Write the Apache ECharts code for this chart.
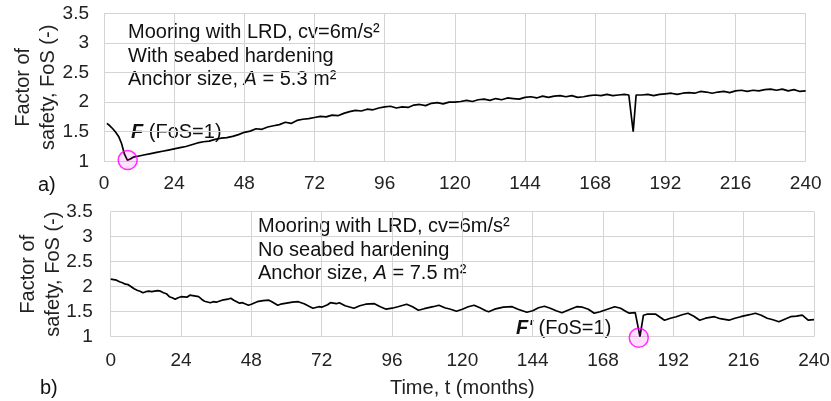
<!DOCTYPE html>
<html>
<head>
<meta charset="utf-8">
<title>Factor of safety</title>
<script src="https://cdn.jsdelivr.net/npm/echarts@6/dist/echarts.min.js"></script>
<style>
  html, body { margin: 0; padding: 0; background: #fff; }
  #main { width: 831px; height: 401px; }
</style>
</head>
<body>
<div id="main"></div>
<script>
// a) with seabed hardening, A = 5.3 m2
var monthsA = [1, 2, 3, 4, 5, 6, 7, 8, 9, 10, 12, 14, 16, 18, 20, 22, 24, 26, 28, 30, 32, 34, 36, 38, 40,
  42, 44, 46, 48, 50, 52, 54, 56, 58, 60, 62, 64, 66, 68, 70, 72, 74, 76, 78, 80, 82, 84, 86, 88, 90,
  92, 94, 96, 98, 100, 102, 104, 106, 108, 110, 112, 114, 116, 118, 120, 122, 124, 126, 128, 130,
  132, 134, 136, 138, 140, 142, 144, 146, 148, 150, 152, 154, 156, 158, 160, 162, 164, 166, 168,
  170, 172, 174, 176, 178, 179.5, 181, 182, 184, 186, 188, 190, 192, 194, 196, 198, 200, 202, 204,
  206, 208, 210, 212, 214, 216, 218, 220, 222, 224, 226, 228, 230, 232, 234, 236, 238, 240];
var fosA = [1.64, 1.60, 1.55, 1.49, 1.42, 1.30, 1.12, 1.02, 1.04, 1.07, 1.09, 1.11, 1.13, 1.15, 1.17, 1.19, 1.21, 1.23, 1.25, 1.28, 1.31, 1.33, 1.34, 1.37, 1.39,
  1.40, 1.42, 1.45, 1.49, 1.51, 1.55, 1.54, 1.58, 1.60, 1.62, 1.66, 1.64, 1.69, 1.71, 1.72, 1.74, 1.76, 1.75, 1.78, 1.77, 1.81, 1.84, 1.86, 1.85, 1.88,
  1.87, 1.90, 1.92, 1.93, 1.90, 1.92, 1.91, 1.95, 1.96, 1.94, 1.98, 1.99, 1.97, 2.00, 2.00, 2.01, 2.03, 2.01, 2.04, 2.05,
  2.03, 2.06, 2.04, 2.07, 2.06, 2.05, 2.08, 2.09, 2.07, 2.10, 2.08, 2.10, 2.11, 2.09, 2.11, 2.08, 2.09, 2.11, 2.12,
  2.11, 2.13, 2.11, 2.12, 2.13, 2.12, 1.50, 2.12, 2.12, 2.13, 2.11, 2.13, 2.14, 2.15, 2.13, 2.15, 2.16, 2.15, 2.18,
  2.17, 2.15, 2.17, 2.18, 2.16, 2.19, 2.20, 2.18, 2.20, 2.19, 2.21, 2.22, 2.20, 2.22, 2.19, 2.21, 2.18, 2.19];

// b) no seabed hardening, A = 7.5 m2
var monthsB = [0, 1, 2, 3, 4, 5, 6, 7, 8, 9, 10, 11, 12, 13, 14, 16, 17, 18, 19, 20, 21, 22, 23, 24, 26, 27, 28, 30,
  31, 32, 34, 35, 36, 38, 40, 41, 42, 44, 45, 47, 48, 50, 52, 54, 55, 57, 58, 60, 62, 64, 66, 68, 69, 71, 72,
  74, 75, 77, 78, 80, 83, 85, 87, 90, 92, 94, 96, 98, 101, 103, 105, 107, 110, 112, 114, 116, 118, 120,
  122, 124, 126, 128, 129, 131, 134, 137, 139, 142, 144, 146, 148, 150, 152, 154, 156, 159, 161, 163,
  165, 167, 170, 172, 174, 176, 177, 179, 180.6, 181.8, 183, 186, 188, 189, 191, 193, 195, 197, 199,
  201, 203, 206, 208, 211, 213, 215, 218, 220, 222, 224, 226, 228, 230, 232, 234, 236, 238, 240];
var fosB = [2.15, 2.14, 2.13, 2.10, 2.08, 2.05, 2.04, 2.00, 1.96, 1.93, 1.91, 1.88, 1.90, 1.91, 1.90, 1.92, 1.91, 1.88, 1.86, 1.80, 1.78, 1.75, 1.78, 1.80, 1.79, 1.83, 1.82, 1.80,
  1.75, 1.71, 1.68, 1.70, 1.69, 1.73, 1.75, 1.77, 1.73, 1.67, 1.68, 1.63, 1.65, 1.70, 1.72, 1.73, 1.70, 1.63, 1.65, 1.67, 1.69, 1.70, 1.66, 1.60, 1.57, 1.60, 1.59,
  1.64, 1.68, 1.66, 1.68, 1.62, 1.57, 1.62, 1.65, 1.66, 1.60, 1.55, 1.57, 1.60, 1.65, 1.60, 1.53, 1.56, 1.60, 1.63, 1.58, 1.55, 1.51, 1.55,
  1.60, 1.63, 1.58, 1.52, 1.50, 1.55, 1.59, 1.60, 1.55, 1.49, 1.52, 1.58, 1.61, 1.57, 1.52, 1.48, 1.53, 1.60, 1.59, 1.55,
  1.47, 1.50, 1.56, 1.60, 1.57, 1.50, 1.47, 1.48, 1.00, 1.43, 1.45, 1.45, 1.37, 1.33, 1.37, 1.40, 1.44, 1.47, 1.41,
  1.33, 1.37, 1.40, 1.36, 1.33, 1.37, 1.40, 1.44, 1.47, 1.43, 1.37, 1.34, 1.30, 1.35, 1.40, 1.41, 1.43, 1.33, 1.34];

// failure points (FoS = 1)
var failA = [8.1, 1.02];
var failB = [180.2, 0.98];

function pairs(xs, ys) {
  return xs.map(function (x, i) { return [x, ys[i]]; });
}

var FONT = 'Liberation Sans, Arial, sans-serif';
var gridColor = '#d4d4d4';

function xAxisFor(idx, margin, name) {
  return {
    type: 'value', gridIndex: idx, min: 0, max: 240, interval: 24,
    axisLine: { show: false }, axisTick: { show: false },
    axisLabel: { color: '#222', fontSize: 19, fontFamily: FONT, margin: margin },
    splitLine: { show: true, lineStyle: { color: gridColor, width: 1 } },
    name: name || '', nameLocation: 'middle', nameGap: 42,
    nameTextStyle: { color: '#222', fontSize: 20, fontFamily: FONT }
  };
}
function yAxisFor(idx, margin, gap) {
  return {
    type: 'value', gridIndex: idx, min: 1, max: 3.5, interval: 0.5,
    axisLine: { show: false }, axisTick: { show: false },
    axisLabel: { color: '#222', fontSize: 19, fontFamily: FONT, margin: margin },
    splitLine: { show: true, lineStyle: { color: gridColor, width: 1 } },
    name: 'Factor of\nsafety, FoS (-)', nameLocation: 'middle', nameGap: gap,
    nameMoveOverlap: false,
    nameTextStyle: { color: '#222', fontSize: 20, fontFamily: FONT, lineHeight: 25 }
  };
}

var circleStyle = { color: 'rgba(255,0,255,0.15)', borderColor: '#ff00ff', borderWidth: 1.5 };
var txt = { fontSize: 20, fontFamily: FONT, fill: '#111', lineHeight: 23.5 };
var rich = {
  i: { fontStyle: 'italic', fontSize: 20, fontFamily: FONT, fill: '#111' },
  b: { fontStyle: 'italic', fontWeight: 'bold', fontSize: 20, fontFamily: FONT, fill: '#111' }
};

var chart = echarts.init(document.getElementById('main'));
chart.setOption({
  animation: false,
  grid: [
    { left: 104, top: 13.3, width: 701.7, height: 148, containLabel: false, outerBoundsMode: 'none' },
    { left: 110.7, top: 211.7, width: 703.3, height: 125, containLabel: false, outerBoundsMode: 'none' }
  ],
  xAxis: [xAxisFor(0, 13), xAxisFor(1, 15, 'Time, t (months)')],
  yAxis: [yAxisFor(0, 15, 43), yAxisFor(1, 18, 45)],
  series: [
    { type: 'line', xAxisIndex: 0, yAxisIndex: 0, data: pairs(monthsA, fosA), showSymbol: false,
      lineStyle: { color: '#000', width: 1.7 } },
    { type: 'line', xAxisIndex: 1, yAxisIndex: 1, data: pairs(monthsB, fosB), showSymbol: false,
      lineStyle: { color: '#000', width: 1.7 } },
    { type: 'scatter', xAxisIndex: 0, yAxisIndex: 0, data: [failA], symbolSize: 19, clip: false,
      itemStyle: circleStyle, z: 5 },
    { type: 'scatter', xAxisIndex: 1, yAxisIndex: 1, data: [failB], symbolSize: 19, clip: false,
      itemStyle: circleStyle, z: 5 }
  ],
  graphic: [
    { type: 'text', left: 128, top: 21, style: Object.assign({}, txt, {
      text: 'Mooring with LRD, cv=6m/s²\nWith seabed hardening\nAnchor size, {i|A} = 5.3 m²', rich: rich }) },
    { type: 'text', left: 258, top: 215, style: Object.assign({}, txt, {
      text: 'Mooring with LRD, cv=6m/s²\nNo seabed hardening\nAnchor size, {i|A} = 7.5 m²', rich: rich }) },
    { type: 'text', left: 131, top: 121, style: Object.assign({}, txt, { text: '{b|F} (FoS=1)', rich: rich }) },
    { type: 'text', left: 516, top: 317, style: Object.assign({}, txt, { text: "{b|F'} (FoS=1)", rich: rich }) },
    { type: 'text', left: 38, top: 174, style: Object.assign({}, txt, { text: 'a)' }) },
    { type: 'text', left: 40, top: 377, style: Object.assign({}, txt, { text: 'b)' }) }
  ]
});
</script>
</body>
</html>
